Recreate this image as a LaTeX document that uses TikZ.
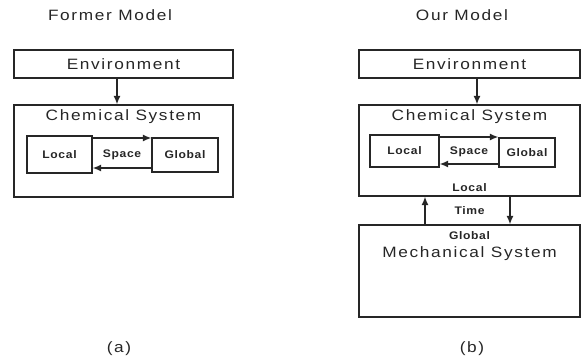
\documentclass[tikz,border=0pt]{standalone}
\usepackage{fontspec}
\setsansfont{Liberation Sans}
\newfontfamily\widefont{Liberation Sans}[LetterSpace=11, FakeStretch=1.15]
\newfontfamily\tagfont{Liberation Sans}[LetterSpace=6, FakeStretch=1.1]
\usetikzlibrary{calc,positioning,arrows.meta}

\begin{document}
\begin{tikzpicture}[x=1pt, y=-1pt,
    box/.style={draw=black!85, line width=1.3pt, inner sep=0pt},
    big/.style={font=\widefont\fontsize{15}{17}\selectfont, text=black!85},
    lbl/.style={font=\tagfont\bfseries\fontsize{11}{13}\selectfont, text=black!85},
    arr/.style={-{Latex[length=8.5pt,width=7pt]}, line width=1.3pt, draw=black!85}]
    \useasboundingbox (0,0) rectangle (584,359);

    % (a) former model
    \node[big] (titleA) at (110,15) {Former Model};
    \node[box, big, minimum width=219pt, minimum height=28pt] (envA) at (123.5,64) {Environment};
    \node[box, minimum width=219pt, minimum height=92pt] (chemA) at (123.5,151) {};
    \node[big, below=2pt of chemA.north] (chemAtext) {Chemical System};
    \node[box, lbl, minimum width=65pt, minimum height=37pt] (localA) at (59.5,154.5) {Local};
    \node[box, lbl, minimum width=66pt, minimum height=34pt] (globalA) at (185,155) {Global};
    \node[lbl] (spaceA) at ($(localA.east)!0.5!(globalA.west)$) {Space};
    \draw[arr] ([xshift=-6.5pt]envA.south) -- ([xshift=-6.5pt]chemA.north);
    \draw[arr] ([yshift=16.5pt]localA.east) -- ([yshift=16.5pt]localA.east -| globalA.west);
    \draw[arr] ([yshift=-13pt]globalA.west) -- ([yshift=-13pt]globalA.west -| localA.east);
    \node[big] (capA) at (119,349) {(a)};

    % (b) our model
    \node[big] (titleB) at (462,15) {Our Model};
    \node[box, big, minimum width=221pt, minimum height=28pt] (envB) at (469.5,64) {Environment};
    \node[box, minimum width=221pt, minimum height=91pt] (chemB) at (469.5,150.5) {};
    \node[big, below=2pt of chemB.north] (chemBtext) {Chemical System};
    \node[box, lbl, minimum width=69pt, minimum height=32pt] (localB) at (404.5,151) {Local};
    \node[box, lbl, minimum width=56pt, minimum height=29pt] (globalB) at (527,152.5) {Global};
    \node[lbl] (spaceB) at ($(localB.east)!0.5!(globalB.west)$) {Space};
    \node[lbl, above=2pt of chemB.south] (localC) {Local};
    \node[box, minimum width=221pt, minimum height=92pt] (mechB) at (469.5,271) {};
    \node[lbl, below=4pt of mechB.north] (globalC) {Global};
    \node[big, below=0pt of globalC] (mechBtext) {Mechanical System};
    \node[lbl] (timeB) at ($(chemB.south)!0.5!(mechB.north)$) {Time};
    \draw[arr] ([xshift=7.5pt]envB.south) -- ([xshift=7.5pt]chemB.north);
    \draw[arr] ([yshift=14pt]localB.east) -- ([yshift=14pt]localB.east -| globalB.west);
    \draw[arr] ([yshift=-11.5pt]globalB.west) -- ([yshift=-11.5pt]globalB.west -| localB.east);
    \draw[arr] (mechB.north -| 425,0) -- (chemB.south -| 425,0);
    \draw[arr] (chemB.south -| 510,0) -- (mechB.north -| 510,0);
    \node[big] (capB) at (472,349) {(b)};
\end{tikzpicture}
\end{document}
